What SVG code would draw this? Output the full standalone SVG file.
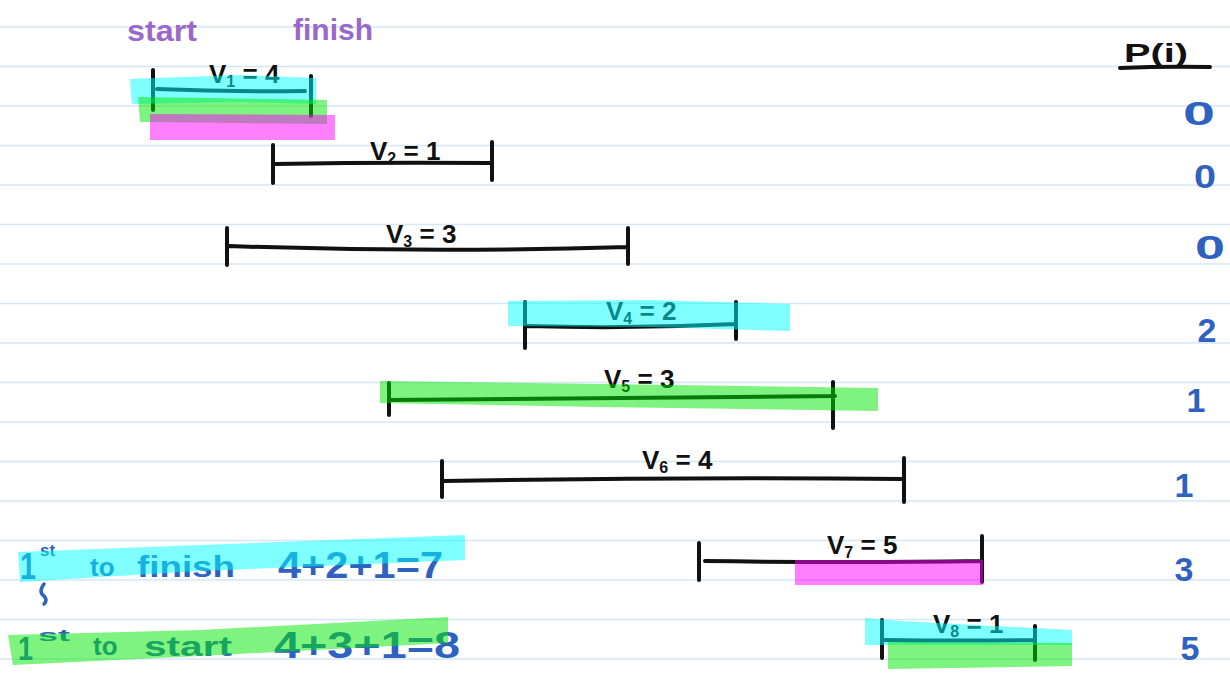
<svg xmlns="http://www.w3.org/2000/svg" width="1230" height="676" viewBox="0 0 1230 676">
<style>
.paper{stroke:#d3e7f6;stroke-width:1.5}
.ink{fill:none;stroke:#111;stroke-width:4;stroke-linecap:round;stroke-linejoin:round}
.lbl{font-family:"Liberation Sans","DejaVu Sans",sans-serif;font-size:26px;font-weight:bold;fill:#111}
.pur{font-family:"Liberation Sans","DejaVu Sans",sans-serif;font-size:30px;font-weight:bold;fill:#9a68c9}
.blu{font-family:"Liberation Sans","DejaVu Sans",sans-serif;font-weight:bold;fill:#2f62c0}
.cy{fill:#00ffff;opacity:0.5}
.gr{fill:#00e800;opacity:0.5}
.mg{fill:#ff00ff;opacity:0.5}
</style>
<rect width="1230" height="676" fill="#fff"/>
<g id="paper-lines">
<line class="paper" x1="0" y1="27" x2="1230" y2="27"/>
<line class="paper" x1="0" y1="66.5" x2="1230" y2="66.5"/>
<line class="paper" x1="0" y1="106" x2="1230" y2="106"/>
<line class="paper" x1="0" y1="145.5" x2="1230" y2="145.5"/>
<line class="paper" x1="0" y1="185" x2="1230" y2="185"/>
<line class="paper" x1="0" y1="224.5" x2="1230" y2="224.5"/>
<line class="paper" x1="0" y1="264" x2="1230" y2="264"/>
<line class="paper" x1="0" y1="303.5" x2="1230" y2="303.5"/>
<line class="paper" x1="0" y1="343" x2="1230" y2="343"/>
<line class="paper" x1="0" y1="382.5" x2="1230" y2="382.5"/>
<line class="paper" x1="0" y1="422" x2="1230" y2="422"/>
<line class="paper" x1="0" y1="461.5" x2="1230" y2="461.5"/>
<line class="paper" x1="0" y1="501" x2="1230" y2="501"/>
<line class="paper" x1="0" y1="540.5" x2="1230" y2="540.5"/>
<line class="paper" x1="0" y1="580" x2="1230" y2="580"/>
<line class="paper" x1="0" y1="619.5" x2="1230" y2="619.5"/>
<line class="paper" x1="0" y1="659" x2="1230" y2="659"/>
</g>
<g id="headers">
<text class="pur" x="127" y="41" textLength="70" lengthAdjust="spacingAndGlyphs">start</text>
<text class="pur" x="293" y="40" textLength="80" lengthAdjust="spacingAndGlyphs">finish</text>
</g>
<g id="interval-1">
<path class="ink" d="M153,70 L153,110 M311,76 L311,116 M157,89 Q230,92 305,91"/>
<text class="lbl" x="209" y="83">V<tspan font-size="16" dy="4">1</tspan><tspan dy="-4"> = 4</tspan></text>
</g>
<g id="interval-2">
<path class="ink" d="M273,145 L273,183 M492,142 L492,180 M275,164 Q380,162 490,163"/>
<text class="lbl" x="370" y="160">V<tspan font-size="16" dy="4">2</tspan><tspan dy="-4"> = 1</tspan></text>
</g>
<g id="interval-3">
<path class="ink" d="M227,228 L227,265 M628,228 L628,264 M229,246 Q430,253 628,247"/>
<text class="lbl" x="386" y="243">V<tspan font-size="16" dy="4">3</tspan><tspan dy="-4"> = 3</tspan></text>
</g>
<g id="interval-4">
<path class="ink" d="M525,302 L525,348 M736,302 L736,339 M527,326 Q630,329 736,324"/>
<text class="lbl" x="606" y="320">V<tspan font-size="16" dy="4">4</tspan><tspan dy="-4"> = 2</tspan></text>
</g>
<g id="interval-5">
<path class="ink" d="M389,383 L389,415 M833,382 L833,428 M389,400 Q600,398 835,396"/>
<text class="lbl" x="604" y="388">V<tspan font-size="16" dy="4">5</tspan><tspan dy="-4"> = 3</tspan></text>
</g>
<g id="interval-6">
<path class="ink" d="M442,461 L442,497 M904,458 L904,502 M444,481 Q670,477 904,479"/>
<text class="lbl" x="642" y="469">V<tspan font-size="16" dy="4">6</tspan><tspan dy="-4"> = 4</tspan></text>
</g>
<g id="interval-7">
<path class="ink" d="M699,543 L699,580 M982,536 L982,582 M705,561 Q850,563 982,561"/>
<text class="lbl" x="827" y="554">V<tspan font-size="16" dy="4">7</tspan><tspan dy="-4"> = 5</tspan></text>
</g>
<g id="interval-8">
<path class="ink" d="M882,620 L882,658 M1035,626 L1035,660 M885,640 Q960,641 1035,640"/>
<text class="lbl" x="933" y="633">V<tspan font-size="16" dy="4">8</tspan><tspan dy="-4"> = 1</tspan></text>
</g>
<g id="p-column">
<text x="1124" y="62" class="lbl" textLength="64" lengthAdjust="spacingAndGlyphs">P(i)</text>
<path class="ink" d="M1120,68 Q1165,66 1210,67"/>
<g class="blu" font-size="34" text-anchor="middle">
<text x="1199" y="125" textLength="32" lengthAdjust="spacingAndGlyphs">0</text>
<text x="1205" y="188" textLength="22" lengthAdjust="spacingAndGlyphs">0</text>
<text x="1210" y="259" textLength="30" lengthAdjust="spacingAndGlyphs">0</text>
<text x="1207" y="342">2</text>
<text x="1196" y="412">1</text>
<text x="1184" y="497">1</text>
<text x="1184" y="581">3</text>
<text x="1190" y="660">5</text>
</g>
</g>
<g id="note-finish">
<text class="blu" x="20" y="579" font-size="36" textLength="16" lengthAdjust="spacingAndGlyphs">1</text>
<text class="blu" x="40" y="556" font-size="17">st</text>
<text class="blu" x="90" y="576" font-size="26">to</text>
<text class="blu" x="137" y="577" font-size="30" textLength="98" lengthAdjust="spacingAndGlyphs">finish</text>
<text class="blu" x="278" y="578" font-size="36" textLength="165" lengthAdjust="spacingAndGlyphs">4+2+1=7</text>
<path d="M44,584 Q38,592 44,596 Q48,600 44,604" fill="none" stroke="#2f62c0" stroke-width="3.5" stroke-linecap="round"/>
</g>
<g id="note-start">
<text class="blu" x="18" y="660" font-size="34" textLength="15" lengthAdjust="spacingAndGlyphs">1</text>
<text class="blu" x="38" y="641" font-size="17" textLength="32" lengthAdjust="spacingAndGlyphs">st</text>
<text class="blu" x="93" y="655" font-size="26">to</text>
<text class="blu" x="144" y="656" font-size="28" textLength="88" lengthAdjust="spacingAndGlyphs">start</text>
<text class="blu" x="274" y="658" font-size="36" textLength="186" lengthAdjust="spacingAndGlyphs">4+3+1=8</text>
</g>
<g id="highlights">
<polygon class="cy" points="130,79 240,75 316,78 316,104 240,102 132,104"/>
<polygon class="gr" points="138,97 327,100 327,124 140,122"/>
<polygon class="mg" points="150,114 335,115 335,140 150,140"/>
<polygon class="cy" points="508,301 650,300 790,304 790,331 650,327 508,326"/>
<polygon class="gr" points="380,381 600,384 878,388 878,411 600,407 380,403"/>
<polygon class="mg" points="795,560 983,560 983,585 795,585"/>
<polygon class="cy" points="865,618 900,621 1072,630 1072,645 865,645"/>
<polygon class="gr" points="888,642 1072,643 1072,666 888,669"/>
<polygon class="cy" points="18,552 200,545 465,535 465,560 200,571 20,582"/>
<polygon class="gr" points="8,635 200,630 448,617 448,643 200,656 13,665"/>
</g>
</svg>
